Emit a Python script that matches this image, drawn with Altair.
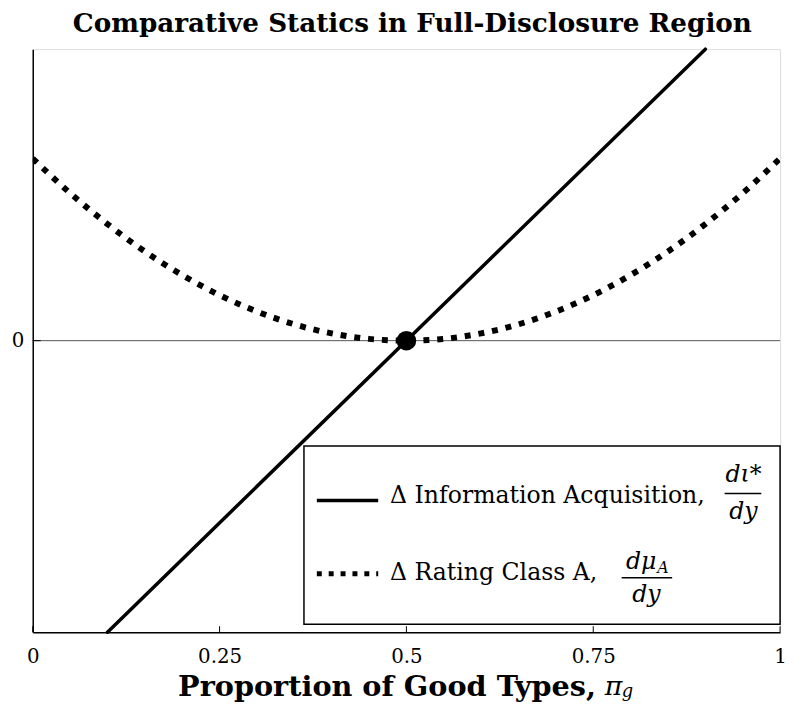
import altair as alt
import pandas as pd

# ---------------- data ----------------
line_x = [0.1, 0.9]
line_y = [-1.0, 1.0]

curve_x = [0.0, 0.05, 0.1, 0.15, 0.2, 0.25, 0.3, 0.35, 0.4, 0.45, 0.5,
           0.55, 0.6, 0.65, 0.7, 0.75, 0.8, 0.85, 0.9, 0.95, 1.0]
curve_y = [0.625, 0.506, 0.4, 0.306, 0.225, 0.156, 0.1, 0.056, 0.025, 0.006, 0.0,
           0.006, 0.025, 0.056, 0.1, 0.156, 0.225, 0.306, 0.4, 0.506, 0.625]

point_x = [0.5]
point_y = [0.0]

x_ticks = [0, 0.25, 0.5, 0.75, 1]
y_ticks = [0]

title_text = "Comparative Statics in Full-Disclosure Region"
xtitle_main = "Proportion of Good Types,"
legend_labels = ["\u0394 Information Acquisition,", "\u0394 Rating Class A,"]

# ---------------- layout ----------------
W, H = 755, 589
SERIF = "DejaVu Serif"

line_df = pd.DataFrame({"x": line_x, "y": line_y})
curve_df = pd.DataFrame({"x": curve_x, "y": curve_y})
pt_df = pd.DataFrame({"x": point_x, "y": point_y})
xt_df = pd.DataFrame({"x": x_ticks})
yt_df = pd.DataFrame({"y": y_ticks})

xscale = alt.Scale(domain=[0, 1], nice=False, zero=False)
yscale = alt.Scale(domain=[-1, 1], nice=False, zero=False)

xaxis = alt.Axis(values=x_ticks, format=".2~f", ticks=False, grid=False,
                 domainColor="black", domainWidth=1.5, labelFont=SERIF,
                 labelFontSize=20, labelColor="black", labelPadding=15,
                 title=None, labelFlush=False)
yaxis = alt.Axis(values=y_ticks, format=".2~f", ticks=False, grid=False,
                 domainColor="black", domainWidth=1.5, labelFont=SERIF,
                 labelFontSize=20, labelColor="black", labelPadding=9,
                 title=None)

X = alt.X("x:Q", scale=xscale, axis=xaxis)
Y = alt.Y("y:Q", scale=yscale, axis=yaxis)

zero_rule = alt.Chart(yt_df).mark_rule(color="#555555", strokeWidth=1).encode(
    y=alt.Y("y:Q", scale=yscale, axis=yaxis))

xticks = alt.Chart(xt_df).mark_rule(color="black", strokeWidth=1).encode(
    x=alt.X("x:Q", scale=xscale, axis=xaxis),
    y=alt.value(H), y2=alt.value(H - 6))

yticks = alt.Chart(yt_df).mark_rule(color="black", strokeWidth=1).encode(
    y=alt.Y("y:Q", scale=yscale, axis=yaxis),
    x=alt.value(0), x2=alt.value(8))

curve = alt.Chart(curve_df).mark_line(
    color="black", strokeWidth=6, strokeDash=[6, 8], strokeCap="butt",
    interpolate="monotone", clip=True).encode(x=X, y=Y)

line = alt.Chart(line_df).mark_line(
    color="black", strokeWidth=3.5, strokeCap="round").encode(x=X, y=Y)

pt = alt.Chart(pt_df).mark_point(
    filled=True, color="black", size=390, opacity=1, shape="circle").encode(x=X, y=Y)

# ---------------- legend ----------------
one = pd.DataFrame({"a": [0]})
base = alt.Chart(one)

box = base.mark_rect(fill="white", stroke="black", strokeWidth=1.5).encode(
    x=alt.value(274), x2=alt.value(755), y=alt.value(401), y2=alt.value(581))

leg_line = base.mark_rule(color="black", strokeWidth=3.5).encode(
    x=alt.value(287), x2=alt.value(349), y=alt.value(456))
leg_dots = base.mark_rule(color="black", strokeWidth=5, strokeDash=[5, 7],
                          strokeCap="butt").encode(
    x=alt.value(287), x2=alt.value(349), y=alt.value(530))

def txt(s, x, y, size=23.8, align="left", style="normal", weight="normal"):
    return base.mark_text(text=s, font=SERIF, fontSize=size, align=align,
                          baseline="middle", fontStyle=style,
                          fontWeight=weight, color="black").encode(
        x=alt.value(x), y=alt.value(y))

leg_t1 = txt(legend_labels[0], 361, 451)
leg_t2 = txt(legend_labels[1], 361, 529)

f1_num = txt("d\u03b9*", 718, 430, align="center", style="italic")
f1_bar = base.mark_rule(color="black", strokeWidth=1.5).encode(
    x=alt.value(699), x2=alt.value(736), y=alt.value(449))
f1_den = txt("dy", 718, 468, align="center", style="italic")

f2_num = txt("d\u03bc", 630, 518, align="right", style="italic")
f2_sub = txt("A", 631, 524, size=16, align="left", style="italic")
f2_bar = base.mark_rule(color="black", strokeWidth=1.5).encode(
    x=alt.value(595), x2=alt.value(646), y=alt.value(534))
f2_den = txt("dy", 620, 552, align="center", style="italic")

# ---------------- x title ----------------
xt_main = txt(xtitle_main, 569, 644, size=29, align="right", weight="bold")
xt_pi = txt("\u03c0", 578, 644, size=27, align="left", style="italic")
xt_g = txt("g", 595, 650, size=18, align="left", style="italic")

chart = alt.layer(
    zero_rule, xticks, yticks, curve, line, pt,
    box, leg_line, leg_dots, leg_t1, leg_t2,
    f1_num, f1_bar, f1_den, f2_num, f2_sub, f2_bar, f2_den,
    xt_main, xt_pi, xt_g,
).properties(
    width=W, height=H,
    title=alt.TitleParams(title_text, font=SERIF, fontSize=26.5,
                          fontWeight="bold", color="black", offset=5,
                          anchor="middle", dx=6),
    autosize=alt.AutoSizeParams(type="none"),
    padding={"left": 25, "top": 38, "right": 7, "bottom": 70},
).configure_view(stroke=None).configure(background="white")

chart.save("out.html", embed_options={"renderer": "svg", "actions": False})
